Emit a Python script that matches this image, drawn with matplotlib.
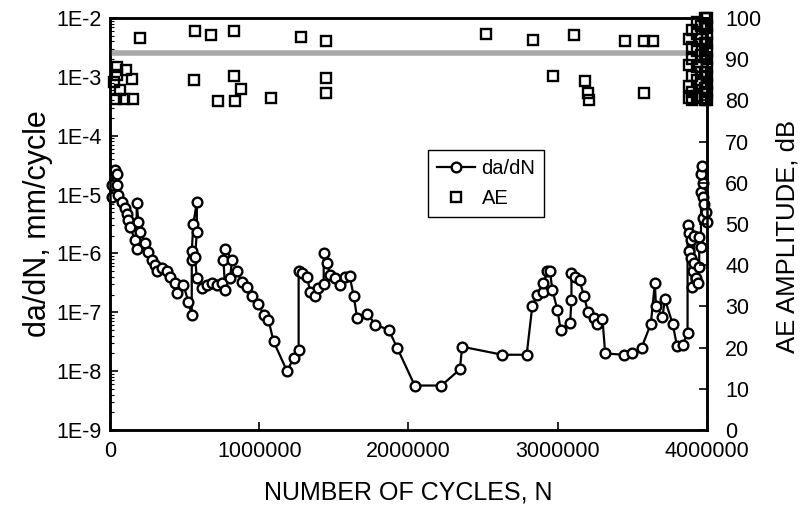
import matplotlib
matplotlib.use("Agg")
import matplotlib.pyplot as plt
from matplotlib.lines import Line2D
import numpy as np

plt.rcParams['font.family'] = ['Liberation Sans', 'DejaVu Sans']

# crack growth rate vs cycles (N in millions)
n_dadn = [0.011, 0.011, 0.034, 0.045, 0.045, 0.056, 0.079, 0.101, 0.112, 0.123,
          0.134, 0.168, 0.179, 0.179, 0.190, 0.201, 0.235, 0.257, 0.280, 0.302,
          0.313, 0.347, 0.381, 0.403, 0.436, 0.448, 0.492, 0.526, 0.548, 0.548,
          0.548, 0.559, 0.582, 0.582, 0.570, 0.582, 0.615, 0.649, 0.683, 0.716,
          0.750, 0.772, 0.760, 0.772, 0.817, 0.805, 0.850, 0.884, 0.917, 0.951,
          0.995, 1.029, 1.062, 1.096, 1.186, 1.230, 1.264, 1.264, 1.287, 1.320,
          1.342, 1.376, 1.391, 1.432, 1.432, 1.454, 1.477, 1.510, 1.544, 1.577,
          1.606, 1.633, 1.656, 1.723, 1.779, 1.868, 1.924, 2.042, 2.221, 2.344,
          2.360, 2.629, 2.792, 2.830, 2.864, 2.904, 2.904, 2.931, 2.948, 2.964,
          2.998, 3.020, 3.083, 3.092, 3.092, 3.114, 3.146, 3.176, 3.203, 3.240,
          3.266, 3.300, 3.318, 3.441, 3.501, 3.562, 3.624, 3.651, 3.658, 3.702,
          3.718, 3.770, 3.799, 3.837, 3.870,
          3.870, 3.881, 3.881, 3.893, 3.899, 3.904, 3.893, 3.915, 3.915, 3.926,
          3.938, 3.948, 3.948, 3.960, 3.960, 3.971, 3.971, 3.998, 3.993, 3.982,
          3.971, 3.960, 3.966]
dadn = [9.0e-6, 1.45e-5, 2.6e-5, 2.2e-5, 1.45e-5, 1.0e-5, 7.6e-6, 6.0e-6, 4.6e-6, 3.7e-6,
        2.8e-6, 1.7e-6, 1.2e-6, 7.3e-6, 3.4e-6, 2.3e-6, 1.5e-6, 1.05e-6, 7.8e-7, 6.3e-7,
        5.0e-7, 5.6e-7, 5.0e-7, 4.0e-7, 3.1e-7, 2.1e-7, 2.9e-7, 1.5e-7, 9.0e-8, 7.8e-7,
        1.1e-6, 3.2e-6, 7.6e-6, 2.3e-6, 8.6e-7, 3.8e-7, 2.6e-7, 2.9e-7, 3.1e-7, 2.9e-7,
        3.1e-7, 2.4e-7, 7.8e-7, 1.2e-6, 7.8e-7, 3.8e-7, 5.0e-7, 3.3e-7, 2.7e-7, 1.9e-7,
        1.4e-7, 9.0e-8, 7.4e-8, 3.2e-8, 1.0e-8, 1.65e-8, 2.3e-8, 5.0e-7, 4.6e-7, 4.0e-7,
        2.2e-7, 1.9e-7, 2.6e-7, 3.0e-7, 1.0e-6, 6.8e-7, 4.3e-7, 3.8e-7, 2.9e-7, 4.0e-7,
        4.1e-7, 1.9e-7, 8.0e-8, 9.5e-8, 6.2e-8, 5.0e-8, 2.5e-8, 5.7e-9, 5.7e-9, 1.07e-8,
        2.6e-8, 1.9e-8, 1.9e-8, 1.3e-7, 2.0e-7, 2.2e-7, 3.1e-7, 5.0e-7, 5.0e-7, 2.4e-7,
        1.1e-7, 5.0e-8, 6.6e-8, 1.6e-7, 4.6e-7, 4.0e-7, 3.5e-7, 1.9e-7, 1.0e-7, 8.0e-8,
        6.4e-8, 7.6e-8, 2.0e-8, 1.9e-8, 2.0e-8, 2.5e-8, 6.4e-8, 3.1e-7, 1.3e-7, 8.4e-8,
        1.66e-7, 6.4e-8, 2.7e-8, 2.8e-8, 4.5e-8,
        3.0e-6, 2.2e-6, 1.1e-6, 8.3e-7, 2.7e-7, 5.0e-7, 1.7e-6, 2.0e-6, 6.8e-7, 3.8e-7,
        3.1e-7, 5.9e-7, 1.9e-6, 1.3e-6, 1.1e-5, 9.0e-6, 4.0e-6, 3.4e-6, 5.0e-6, 7.0e-6,
        1.55e-5, 2.2e-5, 3.0e-5]

# acoustic emission amplitude (N in millions, dB)
n_ae = [0.20, 0.57, 0.68, 0.83, 1.28, 1.445, 2.52, 2.837, 3.11, 3.45, 3.58, 3.64,
        0.045, 0.11, 0.145, 0.045, 0.03, 0.067, 0.04, 0.096, 0.152, 0.566, 0.83,
        0.88, 0.727, 0.84, 1.08, 1.445, 1.445, 2.97, 3.18, 3.20, 3.21, 3.58,
        3.88, 3.88, 3.88, 3.88, 3.90, 3.90, 3.90, 3.90, 3.90, 3.90,
        3.93, 3.93, 3.93, 3.93, 3.93, 3.93, 3.96, 3.96, 3.96, 3.96, 3.96, 3.96,
        3.985, 3.985, 3.985, 3.985, 3.985, 3.985, 3.985,
        4.0, 4.0, 4.0, 4.0, 4.0, 4.0, 4.0, 4.0, 4.0, 4.0, 4.0]
ae_db = [95.1, 96.9, 95.9, 96.8, 95.5, 94.4, 96.0, 94.7, 95.9, 94.4, 94.4, 94.4,
         88.2, 87.4, 85.1, 86.2, 84.5, 82.5, 80.3, 80.3, 80.3, 85.0, 85.9,
         82.8, 79.9, 79.9, 80.7, 85.5, 81.7, 85.9, 84.8, 81.9, 80.1, 81.7,
         94.9, 88.5, 83.5, 80.5, 97.0, 93.0, 90.0, 86.0, 82.0, 80.0,
         99.0, 96.0, 92.0, 88.0, 85.0, 81.0, 98.0, 95.0, 91.0, 87.0, 84.0, 80.5,
         100.0, 97.5, 94.0, 90.5, 87.0, 83.0, 80.0,
         100.0, 98.0, 96.0, 94.0, 92.0, 90.0, 88.0, 86.0, 84.0, 82.0, 80.0]

threshold_db = 91.5
threshold_end = 3.88

fig = plt.figure(figsize=(8.01, 5.14), dpi=100)
ax = fig.add_axes([0.1373, 0.1634, 0.7453, 0.8016])

x1 = np.array(n_dadn) * 1e6
ax.plot(x1, dadn, '-o', color='black', lw=1.6, ms=7, mfc='white', mec='black',
        mew=1.7, clip_on=False, zorder=3)
ax.set_yscale('log')
ax.set_ylim(1e-9, 1e-2)
ax.set_xlim(0, 4e6)
yt = [1e-9, 1e-8, 1e-7, 1e-6, 1e-5, 1e-4, 1e-3, 1e-2]
ax.set_yticks(yt)
ax.set_yticklabels(['1E-9', '1E-8', '1E-7', '1E-6', '1E-5', '1E-4', '1E-3', '1E-2'])
ax.set_xticks([0, 1e6, 2e6, 3e6, 4e6])
ax.set_xticklabels(['0', '1000000', '2000000', '3000000', '4000000'])
ax.tick_params(axis='x', which='major', direction='in', length=6, width=1.2,
               labelsize=15.5, pad=8)
ax.tick_params(axis='y', which='major', direction='in', length=6, width=1.2,
               labelsize=15.5, pad=6)
ax.tick_params(axis='y', which='minor', direction='in', length=3, width=0.8)
ax.set_xlabel('NUMBER OF CYCLES, N', fontsize=18, labelpad=13)
ax.set_ylabel('da/dN, mm/cycle', fontsize=22, labelpad=2)
for s in ax.spines.values():
    s.set_linewidth(1.8)

ax2 = ax.twinx()
ax2.set_ylim(0, 100)
ax2.set_yticks(range(0, 101, 10))
ax2.tick_params(axis='y', direction='in', length=6, width=1.2, labelsize=15.5, pad=13)
ax2.plot([0, threshold_end * 1e6], [threshold_db, threshold_db], color='#a8a8a8',
         lw=4, solid_capstyle='butt', zorder=1)
ax2.plot(np.array(n_ae) * 1e6, ae_db, 's', ms=6.8, mfc='none', mec='black',
         mew=1.7, clip_on=False, zorder=3)
ax2.set_ylabel('AE AMPLITUDE, dB', fontsize=18.5, labelpad=6)
ax2.yaxis.set_label_coords(1.115, 0.47)
for s in ax2.spines.values():
    s.set_linewidth(1.8)

handles = [Line2D([], [], color='black', lw=1.6, marker='o', ms=7, mfc='white',
                  mew=1.7),
           Line2D([], [], ls='none', marker='s', ms=6.8, mfc='none', mec='black',
                  mew=1.7)]
leg = ax2.legend(handles, ['da/dN', 'AE'], loc='upper left',
                 bbox_to_anchor=(0.533, 0.68), fontsize=14.5, frameon=True,
                 fancybox=False, edgecolor='black', framealpha=1,
                 handlelength=1.9, handletextpad=0.3, borderpad=0.45,
                 labelspacing=0.55, borderaxespad=0)
leg.get_frame().set_linewidth(1.0)

fig.savefig('out.png', dpi=100)
